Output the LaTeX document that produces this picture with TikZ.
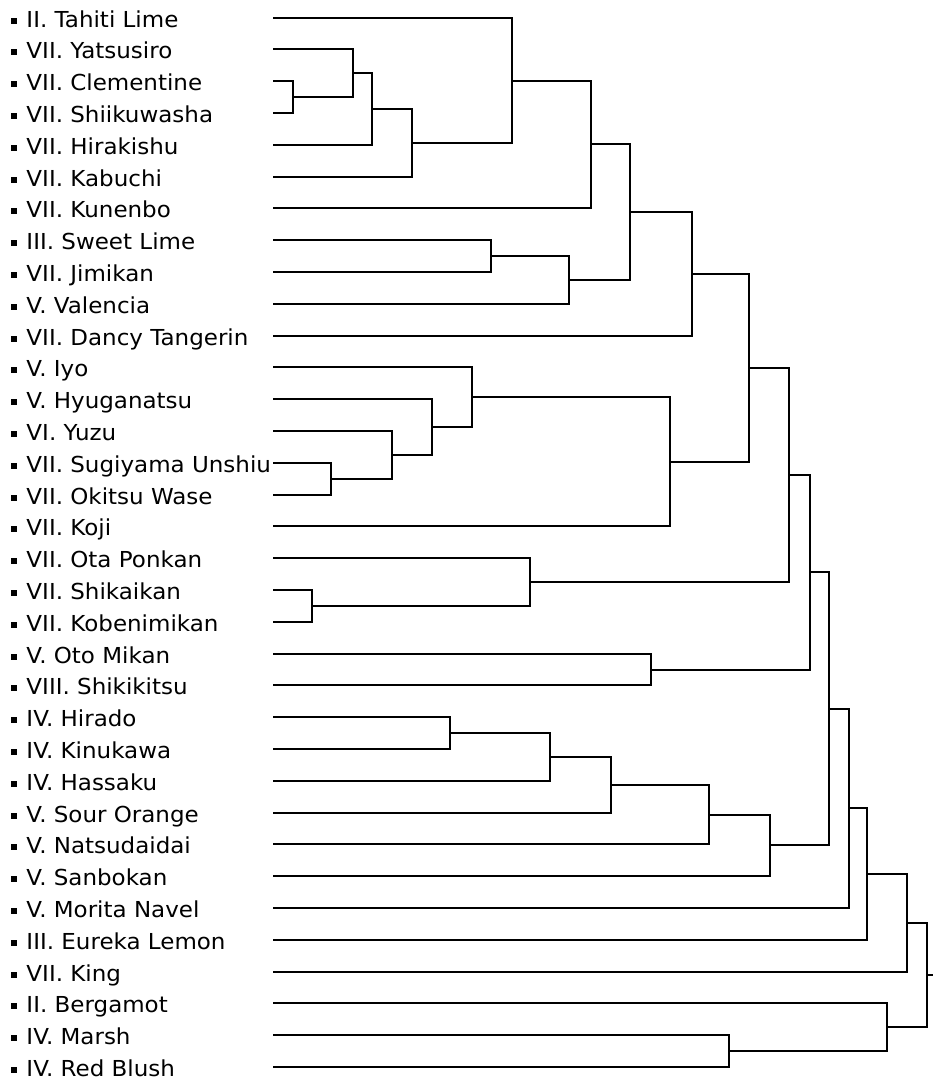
\documentclass[tikz,border=0pt]{standalone}
\usepackage{fontspec}
\setmainfont{DejaVu Sans}
\usetikzlibrary{calc}
\newcommand\joinnode[4]{%
  \coordinate (m#1) at ($(#3)!.5!(#4)$);
  \coordinate (#1) at (#2,0 |- m#1);
  \draw[branch] (#3) -| (#1) |- (#4);
}
\begin{document}
\begin{tikzpicture}[x=1pt,y=-1pt,
  branch/.style={line width=2pt,black},
  lbl/.style={anchor=base west,inner sep=0pt,font=\fontsize{22}{22}\selectfont},
  bulletbox/.style={rectangle,fill=black,inner sep=0pt,minimum size=6pt}]
\useasboundingbox (0,0) rectangle (933,1082);
\foreach \i/\t in {0/II. Tahiti Lime,1/VII. Yatsusiro,2/VII. Clementine,3/VII. Shiikuwasha,
  4/VII. Hirakishu,5/VII. Kabuchi,6/VII. Kunenbo,7/III. Sweet Lime,8/VII. Jimikan,
  9/V. Valencia,10/VII. Dancy Tangerin,11/V. Iyo,12/V. Hyuganatsu,13/VI. Yuzu,
  14/VII. Sugiyama Unshiu,15/VII. Okitsu Wase,16/VII. Koji,17/VII. Ota Ponkan,
  18/VII. Shikaikan,19/VII. Kobenimikan,20/V. Oto Mikan,21/VIII. Shikikitsu,
  22/IV. Hirado,23/IV. Kinukawa,24/IV. Hassaku,25/V. Sour Orange,26/V. Natsudaidai,
  27/V. Sanbokan,28/V. Morita Navel,29/III. Eureka Lemon,30/VII. King,
  31/II. Bergamot,32/IV. Marsh,33/IV. Red Blush}{
  \pgfmathsetmacro\yy{round(17.5+31.8*\i)}
  \coordinate (L\i) at (273,\yy);
  \node[bulletbox] (B\i) at (13.8,\yy+3.2) {};
  \node[lbl] (T\i) at (26.3,\yy+9) {\scalebox{1.045}[1]{\t}};
}
\joinnode{n1}{293}{L2}{L3}
\joinnode{n2}{353}{L1}{n1}
\joinnode{n3}{372}{n2}{L4}
\joinnode{n4}{412}{n3}{L5}
\joinnode{n5}{512}{L0}{n4}
\joinnode{n6}{591}{n5}{L6}
\joinnode{n7}{491}{L7}{L8}
\joinnode{n8}{569}{n7}{L9}
\joinnode{n9}{630}{n6}{n8}
\joinnode{n10}{692}{n9}{L10}
\joinnode{n11}{331}{L14}{L15}
\joinnode{n12}{392}{L13}{n11}
\joinnode{n13}{432}{L12}{n12}
\joinnode{n14}{472}{L11}{n13}
\joinnode{n15}{670}{n14}{L16}
\joinnode{n16}{749}{n10}{n15}
\joinnode{n17}{312}{L18}{L19}
\joinnode{n18}{530}{L17}{n17}
\joinnode{n19}{789}{n16}{n18}
\joinnode{n20}{651}{L20}{L21}
\joinnode{n21}{810}{n19}{n20}
\joinnode{n22}{450}{L22}{L23}
\joinnode{n23}{550}{n22}{L24}
\joinnode{n24}{611}{n23}{L25}
\joinnode{n25}{709}{n24}{L26}
\joinnode{n26}{770}{n25}{L27}
\joinnode{n27}{829}{n21}{n26}
\joinnode{n28}{849}{n27}{L28}
\joinnode{n29}{867}{n28}{L29}
\joinnode{n30}{907}{n29}{L30}
\joinnode{n31}{729}{L32}{L33}
\joinnode{n32}{887}{L31}{n31}
\joinnode{n33}{927}{n30}{n32}
\coordinate (root) at (933,0 |- n33);
\draw[branch] (n33) -- (root);
\end{tikzpicture}
\end{document}
